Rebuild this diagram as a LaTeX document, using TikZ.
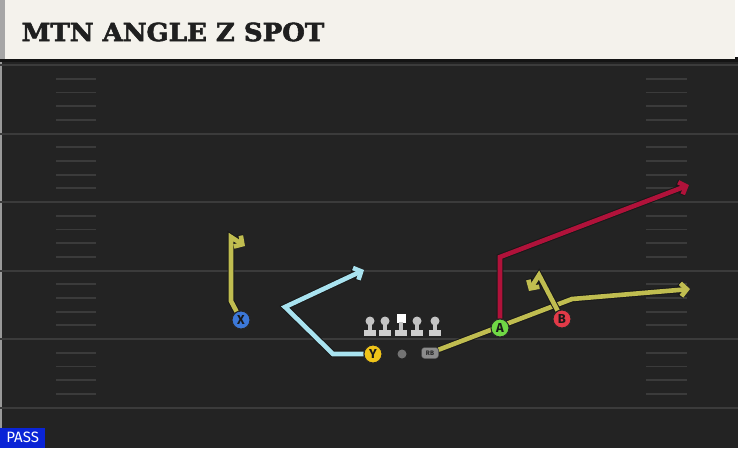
\documentclass[tikz,border=0pt]{standalone}
\usepackage{fontspec}
\newfontfamily\titlefont{DejaVu Serif}[BoldFeatures={FakeBold=2.2}]
\setsansfont{Fira Sans}
\usetikzlibrary{arrows.meta}
\definecolor{turf}{HTML}{232323}
\definecolor{stripe}{HTML}{3B3B3B}
\definecolor{banner}{HTML}{F4F2EC}
\definecolor{olive}{HTML}{C0BD50}
\definecolor{sky}{HTML}{A9E3F0}
\definecolor{crimson}{HTML}{B0123A}
\definecolor{xblue}{HTML}{3C78D8}
\definecolor{yyellow}{HTML}{F0C419}
\definecolor{agreen}{HTML}{70D845}
\definecolor{bred}{HTML}{E23A48}
\definecolor{passblue}{HTML}{0A24D6}
\definecolor{linegray}{HTML}{C4C4C4}
\pgfdeclarelayer{field}
\pgfdeclarelayer{routes}
\pgfsetlayers{field,routes,main}
\begin{document}
\begin{tikzpicture}[x=1pt,y=-1pt,
  player/.style={circle,draw=black!85,line width=1pt,fill=#1,minimum size=18pt,inner sep=0pt,font=\sffamily\bfseries\fontsize{13}{13}\selectfont,text=black!90},
  route/.style={draw=#1,line width=4.6pt,-{Straight Barb[length=6pt,width=13pt]},preaction={draw=black!90,line width=6.6pt}},
  hash/.style={stripe,line width=1.8pt}]
  \useasboundingbox (0,0) rectangle (738,448);

  \begin{pgfonlayer}{field}
  \fill[turf] (0,58) rectangle (738,448);
  \fill[black!40] (0,62) rectangle (1.5,428);
  \foreach \yl in {65,133.5,202,270.5,339,407.5}
    \draw[stripe,line width=2pt] (0,\yl) -- (738,\yl);
  \foreach \yl in {65,133.5,202,270.5,339}
    \foreach \k in {1,2,3,4} {
      \draw[hash] (56,\yl+13.7*\k) -- (96,\yl+13.7*\k);
      \draw[hash] (646,\yl+13.7*\k) -- (687,\yl+13.7*\k);
    }
  \fill[black!92] (0,57) rectangle (738,62);
  \fill[banner] (5,0) rectangle (735,59);
  \fill[black!35] (0,0) rectangle (5,59);
  \end{pgfonlayer}

  \node[anchor=west,text=black!88,font=\titlefont\bfseries\fontsize{25}{25}\selectfont,xscale=1.04] (title) at (18,32) {MTN ANGLE Z SPOT};

  \node[player=xblue] (X) at (241,320) {X};
  \node[player=yyellow] (Y) at (373,354) {Y};
  \node[player=agreen] (A) at (500,328) {A};
  \node[player=bred] (B) at (562,319) {B};
  \node[rounded corners=3pt,fill=black!45,draw=black!70,minimum width=17pt,minimum height=11pt,inner sep=0pt,font=\sffamily\bfseries\fontsize{6.5}{6.5}\selectfont,text=black!85] (RB) at (430,353) {RB};
  \node[circle,fill=black!55,minimum size=9pt,inner sep=0pt] (ball) at (402,354) {};

  \foreach \lx in {370,385,417,435} {
    \fill[linegray] (\lx,321) circle (4.5);
    \fill[linegray] (\lx-1.8,322) rectangle (\lx+1.8,331);
    \fill[linegray!85] (\lx-6,330) rectangle (\lx+6,335.5);
  }
  \fill[white] (396.5,313.5) rectangle (405.5,322.5);
  \fill[linegray] (399.2,322) rectangle (402.8,331);
  \fill[linegray!85] (395,330) rectangle (407,335.5);

  \node[fill=passblue,text=white,anchor=south west,minimum width=45pt,minimum height=20pt,inner sep=0pt,font=\sffamily\fontsize{15}{15}\selectfont] (pass) at (0,448) {PASS};

  \coordinate (x1) at (231,301);
  \coordinate (x2) at (231,237);
  \coordinate (x3) at (245,246);
  \coordinate (y1) at (333,354);
  \coordinate (y2) at (285,307);
  \coordinate (y3) at (364,270);
  \coordinate (a1) at (500,257);
  \coordinate (a2) at (689,185);
  \coordinate (r1) at (572,299);
  \coordinate (r2) at (690,289);
  \coordinate (b1) at (539,275);
  \coordinate (b2) at (529,291);

  \begin{pgfonlayer}{routes}
  \draw[route=olive] (X) -- (x1) -- (x2) -- (x3);
  \draw[route=sky] (Y) -- (y1) -- (y2) -- (y3);
  \draw[route=crimson] (A) -- (a1) -- (a2);
  \draw[route=olive] (RB) -- (r1) -- (r2);
  \draw[route=olive] (B) -- (b1) -- (b2);
  \end{pgfonlayer}
\end{tikzpicture}
\end{document}
